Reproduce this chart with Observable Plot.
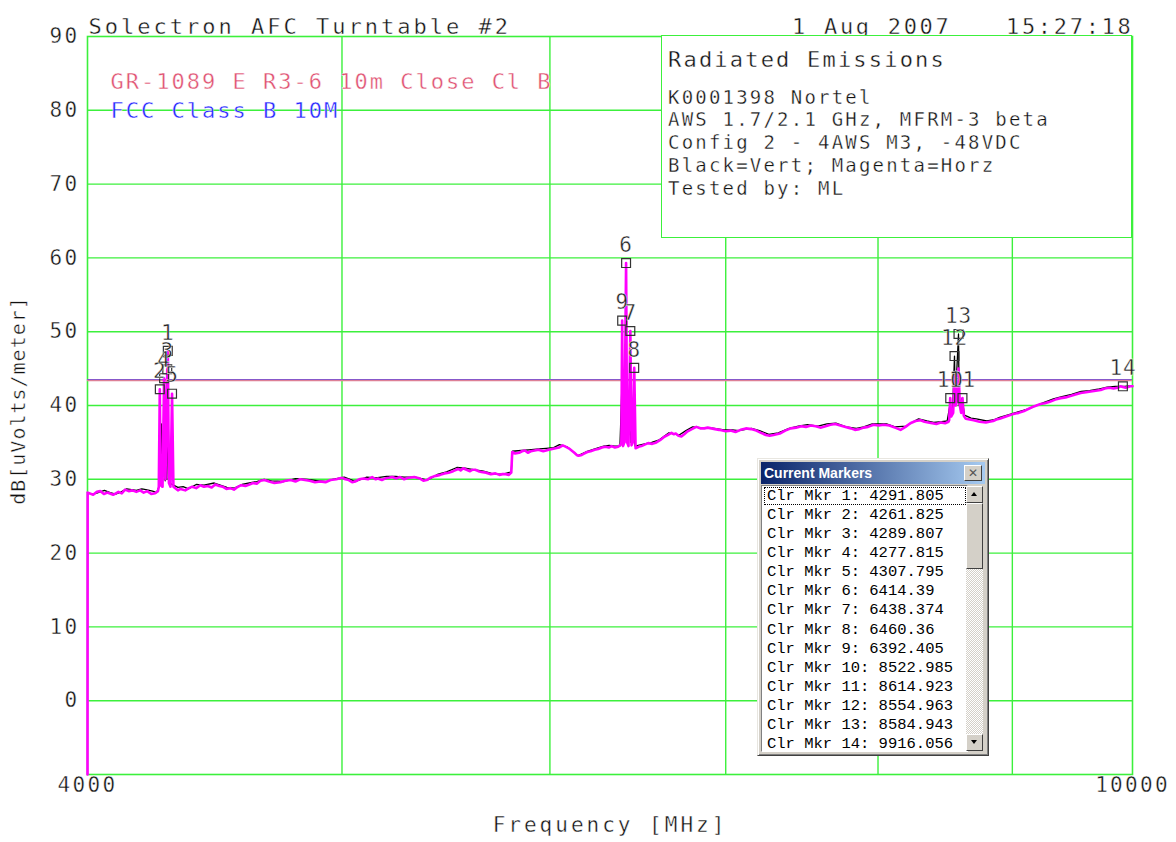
<!DOCTYPE html>
<html>
<head>
<meta charset="utf-8">
<script src="https://cdn.jsdelivr.net/npm/d3@7"></script>
<script src="https://cdn.jsdelivr.net/npm/@observablehq/plot@0.6"></script>
<style>
  html, body { margin: 0; padding: 0; background: #fff; }
  #wrap { position: relative; width: 1176px; height: 842px; overflow: hidden; background: #fff; }
  #wrap > svg { position: absolute; left: 0; top: 0; }
  #wrap > svg text { stroke: #fff; stroke-width: 0.4px; paint-order: normal; }
  .info { position: absolute; left: 661px; top: 35px; width: 471px; height: 203px; box-sizing: border-box;
          border: 1.5px solid #3cf03c; background: #fff; font-family: "DejaVu Sans Mono", monospace; color: #111;
          -webkit-text-stroke: 0.35px #fff; }
  .info div { position: absolute; left: 6px; white-space: pre; line-height: 1; }
  .mw { position: absolute; left: 757px; top: 458px; width: 232px; height: 298px; box-sizing: border-box;
        background: #d4d0c8; border: 1px solid; border-color: #e8e6e0 #404040 #404040 #e8e6e0;
        box-shadow: inset 1px 1px #fff, inset -1px -1px #808080; }
  .tb { position: absolute; left: 3px; top: 3px; right: 3px; height: 22px;
        background: linear-gradient(to right, #0a246a, #a6caf0); color: #fff;
        font: bold 14px "Liberation Sans", "DejaVu Sans", sans-serif; line-height: 22px; padding-left: 3px; box-sizing: border-box; }
  .xb { position: absolute; right: 3px; top: 3px; width: 18px; height: 16px; background: #d4d0c8; box-sizing: border-box;
        border: 1px solid; border-color: #fff #404040 #404040 #fff; color: #555; font: bold 12px "DejaVu Sans", sans-serif;
        line-height: 14px; text-align: center; }
  .list { position: absolute; left: 3px; top: 26px; width: 207px; bottom: 3px; background: #fff; box-sizing: border-box;
          border: 1px solid; border-color: #808080 #fff #fff #808080; overflow: hidden; }
  .row { position: absolute; left: 2px; right: 1px; height: 18px; font: 15.5px "Liberation Mono", "DejaVu Sans Mono", monospace;
         line-height: 18px; color: #000; padding-left: 3px; white-space: pre; }
  .row.sel { outline: 1px dotted #000; outline-offset: -1px; }
  .sb { position: absolute; left: 208px; top: 27px; width: 17px; bottom: 4px;
        background-color: #fff;
        background-image: conic-gradient(#d4d0c8 25%, #fff 0 50%, #d4d0c8 0 75%, #fff 0); background-size: 2px 2px; }
  .btn { position: absolute; left: 0; width: 17px; height: 17px; background: #d4d0c8; box-sizing: border-box;
         border: 1px solid; border-color: #fff #404040 #404040 #fff; }
  .up { top: 0; } .dn { bottom: 0; } .thumb { top: 17px; height: 66px; }
  .tri { position: absolute; left: 4px; width: 0; height: 0; border-left: 3.5px solid transparent; border-right: 3.5px solid transparent; }
  .up .tri { top: 5px; border-bottom: 4px solid #000; }
  .dn .tri { top: 5px; border-top: 4px solid #000; }
</style>
</head>
<body>
<div id="wrap"></div>
<script>
// ---------- data ----------
const titleText = "Solectron AFC Turntable #2";
const dateText = "1 Aug 2007";
const timeText = "15:27:18";
const limitName = "GR-1089 E R3-6 10m Close Cl B";
const fccName = "FCC Class B 10M";
const xLabel = "Frequency [MHz]";
const yLabel = "dB[uVolts/meter]";
const infoTitle = "Radiated Emissions";
const infoLines = ["K0001398 Nortel", "AWS 1.7/2.1 GHz, MFRM-3 beta", "Config 2 - 4AWS M3, -48VDC", "Black=Vert; Magenta=Horz", "Tested by: ML"];

const yTickLabels = [0, 10, 20, 30, 40, 50, 60, 70, 80, 90];
const yGrid = [0, 10, 20, 30, 40, 50, 60, 70, 80];
const xGrid = [5000, 6000, 7000, 8000, 9000];
const xTickLabels = [4000, 10000];
const limitLevel = 43.4;
const fccLevel = 43.5;

const markerIds = [1, 2, 3, 4, 5, 6, 7, 8, 9, 10, 11, 12, 13, 14];
const markerFreqs = [4291.805, 4261.825, 4289.807, 4277.815, 4307.795, 6414.39, 6438.374, 6460.36, 6392.405, 8522.985, 8614.923, 8554.963, 8584.943, 9916.056];
const markerLevels = [47.4, 42.2, 44.9, 43.7, 41.6, 59.3, 50.1, 45.1, 51.5, 41.0, 41.0, 46.7, 49.7, 42.6];

// Magenta = horizontal polarisation [MHz, dB]
const horzTrace = [
  [4000, -10], [4000.5, 28.2], [4020, 27.9], [4033, 28.3], [4045, 28.4], [4058, 28.0], [4070, 28.2], [4091, 27.9],
  [4110, 28.3], [4122, 28.1], [4134, 28.6], [4147, 28.4], [4160, 28.5], [4175, 28.3], [4189, 28.5], [4202, 28.2],
  [4215, 28.4], [4230, 28.0], [4244, 28.1], [4255, 28.4],
  [4258, 29.0], [4261.8, 42.2], [4265, 29.2], [4272, 29.0], [4277.8, 43.7], [4283, 30.0], [4289.8, 44.9], [4290.8, 36.0],
  [4291.8, 47.4], [4296, 29.5], [4302, 29.0], [4307.8, 41.6], [4313, 29.0],
  [4320, 28.8], [4330, 28.5], [4340, 28.7], [4358, 28.5], [4372, 28.8], [4385, 29.0], [4400, 28.8], [4416, 29.2],
  [4430, 29.0], [4445, 29.1], [4460, 28.9], [4474, 29.3], [4490, 29.1], [4503, 29.0], [4518, 28.7], [4533, 28.8],
  [4548, 28.6], [4560, 28.9], [4577, 29.2], [4594, 29.1], [4610, 29.3], [4625, 29.5], [4640, 29.4], [4655, 29.8],
  [4672, 29.9], [4690, 29.7], [4712, 29.5], [4737, 29.6], [4758, 29.8], [4780, 29.9], [4800, 29.7], [4820, 30.0],
  [4840, 29.9], [4860, 29.8], [4883, 29.6], [4906, 29.7], [4928, 29.6], [4950, 29.9], [4975, 30.0], [5000, 30.2],
  [5015, 30.0], [5030, 29.9], [5045, 29.6], [5058, 29.7], [5076, 30.0], [5095, 30.1], [5115, 30.0], [5134, 30.3],
  [5150, 30.0], [5160, 30.1], [5178, 29.9], [5192, 30.1], [5210, 30.2], [5225, 30.3], [5243, 30.1], [5261, 30.3],
  [5280, 30.0], [5300, 30.2], [5327, 30.3], [5354, 30.1], [5370, 29.8], [5385, 29.9], [5402, 30.2], [5420, 30.4],
  [5435, 30.5], [5449, 30.6], [5470, 30.8], [5490, 30.9], [5512, 31.1], [5536, 31.4], [5548, 31.2], [5560, 31.5],
  [5577, 31.3], [5594, 31.1], [5607, 31.3], [5620, 31.3], [5635, 31.1], [5650, 31.0], [5673, 30.9], [5697, 30.7],
  [5720, 30.8], [5740, 30.6], [5756, 30.7], [5772, 30.7], [5788, 30.6], [5800, 30.9], [5805, 33.7], [5820, 33.5],
  [5840, 33.6], [5855, 33.8], [5870, 33.9], [5885, 33.6], [5900, 33.8], [5920, 33.9], [5940, 34.0], [5965, 33.8],
  [5994, 34.0], [6012, 34.1], [6030, 34.2], [6048, 34.3], [6068, 34.6], [6085, 34.4], [6100, 34.2], [6115, 33.9],
  [6130, 33.6], [6142, 33.3], [6153, 33.2], [6170, 33.3], [6185, 33.5], [6200, 33.7], [6218, 33.8], [6240, 34.0],
  [6260, 34.1], [6280, 34.3], [6300, 34.4], [6318, 34.3], [6333, 34.5], [6352, 34.3], [6370, 34.4], [6385, 34.7],
  [6388, 35.0], [6392.4, 51.5], [6397, 34.5], [6405, 35.0], [6414.4, 59.3], [6420, 35.0], [6428, 34.5], [6438.4, 50.1],
  [6445, 34.6], [6452, 35.0], [6460.4, 45.1], [6468, 34.2],
  [6485, 34.4], [6501, 34.5], [6520, 34.7], [6540, 34.9], [6563, 34.8], [6587, 35.0], [6608, 35.3], [6630, 35.7],
  [6652, 36.0], [6675, 36.3], [6688, 36.1], [6700, 36.2], [6716, 35.9], [6733, 35.8], [6750, 36.1], [6770, 36.5],
  [6795, 36.8], [6822, 37.1], [6845, 36.9], [6870, 36.9], [6890, 37.0], [6912, 36.9], [6935, 36.8], [6960, 36.7],
  [6980, 36.6], [7000, 36.5], [7030, 36.6], [7060, 36.4], [7092, 36.7], [7125, 36.9], [7158, 36.8], [7190, 36.6],
  [7220, 36.3], [7251, 36.0], [7275, 35.9], [7300, 36.0], [7320, 36.1], [7340, 36.2], [7375, 36.6], [7411, 36.9],
  [7445, 37.0], [7480, 37.2], [7510, 37.1], [7542, 37.3], [7575, 37.2], [7610, 37.0], [7640, 37.2], [7673, 37.4],
  [7705, 37.5], [7740, 37.3], [7775, 37.1], [7812, 36.9], [7840, 36.7], [7870, 36.8], [7900, 37.0], [7930, 37.1],
  [7968, 37.4], [8005, 37.3], [8040, 37.4], [8080, 37.3], [8120, 37.0], [8160, 36.7], [8195, 37.1], [8230, 37.6],
  [8268, 37.9], [8305, 38.0], [8332, 37.8], [8360, 37.7], [8390, 37.6], [8420, 37.5], [8452, 37.7], [8485, 37.6],
  [8510, 37.8],
  [8515, 38.0], [8523, 41.0], [8530, 38.5], [8545, 39.0], [8555, 44.0], [8565, 40.0], [8577, 41.0], [8585, 45.0],
  [8595, 40.0], [8605, 39.0], [8615, 41.0], [8625, 38.6],
  [8640, 38.2], [8670, 38.1], [8700, 38.0], [8745, 37.8], [8793, 37.7], [8820, 37.8], [8850, 37.9], [8875, 38.1],
  [8900, 38.2], [8950, 38.5], [9000, 38.8], [9050, 39.0], [9100, 39.3], [9160, 39.8], [9226, 40.2], [9260, 40.3],
  [9300, 40.5], [9345, 40.8], [9390, 41.0], [9430, 41.1], [9470, 41.3], [9512, 41.5], [9556, 41.7], [9600, 41.8],
  [9640, 41.9], [9683, 42.0], [9725, 42.1], [9760, 42.3], [9800, 42.4], [9835, 42.3], [9870, 42.4], [9895, 42.6],
  [9916, 42.5], [9940, 42.4], [9960, 42.5], [9980, 42.6], [10000, 42.6]
];

// Black = vertical polarisation [MHz, dB]
const vertTrace = [
  [4000, 28.2], [4015, 28.0], [4030, 28.1], [4060, 28.5], [4080, 28.2], [4100, 28.0], [4120, 28.3], [4140, 28.7],
  [4175, 28.5], [4195, 28.7], [4210, 28.6], [4235, 28.4], [4250, 28.2], [4259, 29.0], [4262, 30.5], [4266, 29.5],
  [4268, 37.5], [4270, 29.0], [4280, 37.0], [4282, 29.8], [4285, 36.0], [4288, 30.0], [4293, 38.5], [4298, 29.5],
  [4330, 28.9], [4350, 29.0], [4370, 28.7], [4400, 29.3], [4430, 29.2], [4470, 29.5], [4520, 28.9], [4550, 28.8],
  [4580, 29.3], [4610, 29.5], [4640, 29.7], [4670, 30.0], [4700, 29.8], [4750, 29.7], [4800, 30.1], [4850, 30.0],
  [4900, 29.8], [4930, 29.7], [4960, 30.0], [5010, 30.3], [5060, 29.7], [5110, 30.3], [5150, 30.2], [5200, 30.4],
  [5240, 30.4], [5280, 30.3], [5330, 30.3], [5390, 29.9], [5440, 30.7], [5480, 31.0], [5530, 31.6], [5570, 31.5],
  [5610, 31.3], [5660, 31.1], [5700, 30.8], [5730, 30.7], [5760, 30.7], [5800, 31.0], [5806, 33.8], [5850, 33.9],
  [5890, 34.0], [5930, 34.1], [5980, 34.2], [6020, 34.3], [6050, 34.7], [6090, 34.4], [6120, 33.8], [6150, 33.2],
  [6200, 33.8], [6250, 34.2], [6290, 34.5], [6320, 34.6], [6350, 34.5], [6380, 34.5], [6390, 42.0], [6395, 35.0],
  [6410, 44.0], [6418, 36.0], [6435, 41.0], [6442, 35.0], [6458, 38.0], [6465, 34.5], [6520, 34.8], [6560, 35.0],
  [6600, 35.3], [6660, 36.3], [6720, 36.0], [6760, 36.6], [6800, 37.1], [6850, 37.0], [6900, 37.0], [6990, 36.7],
  [7040, 36.7], [7080, 36.6], [7160, 36.9], [7210, 36.6], [7270, 36.1], [7330, 36.3], [7400, 36.9], [7460, 37.2],
  [7520, 37.4], [7590, 37.2], [7650, 37.5], [7710, 37.6], [7780, 37.1], [7850, 36.9], [7900, 37.1], [7960, 37.5],
  [8000, 37.5], [8060, 37.5], [8120, 37.1], [8200, 37.2], [8250, 37.8], [8290, 38.2], [8350, 37.9], [8400, 37.7],
  [8460, 37.8], [8500, 37.9], [8520, 40.0], [8540, 39.0], [8555, 46.7], [8560, 40.0], [8585, 49.7], [8590, 40.0],
  [8612, 41.0], [8630, 38.7], [8680, 38.3], [8720, 38.2], [8800, 37.9], [8860, 38.1], [8900, 38.4], [9000, 38.9],
  [9060, 39.2], [9120, 39.5], [9190, 40.0], [9250, 40.4], [9330, 40.9], [9400, 41.2], [9480, 41.5], [9560, 41.9],
  [9630, 42.0], [9700, 42.2], [9780, 42.5], [9850, 42.6], [9930, 42.6], [10000, 42.7]
];

// ---------- build ----------
const GREEN = "#3cf03c";
const FONT = "DejaVu Sans Mono";
const horz = horzTrace.map(([f, v]) => ({f, v}));
const vert = vertTrace.map(([f, v]) => ({f, v}));
const markers = markerIds.map((id, i) => ({id, f: markerFreqs[i], v: markerLevels[i]}));

const chart = Plot.plot({
  width: 1176,
  height: 842,
  marginLeft: 87,
  marginRight: 44,
  marginTop: 36,
  marginBottom: 68,
  style: {fontFamily: FONT, background: "#fff", color: "#111", overflow: "visible"},
  x: {type: "log", domain: [4000, 10000], axis: null, label: null},
  y: {domain: [-10, 90], axis: null, label: null},
  marks: [
    Plot.ruleY(yGrid, {stroke: GREEN, strokeWidth: 1.4}),
    Plot.ruleX(xGrid, {stroke: GREEN, strokeWidth: 1.4}),
    Plot.frame({stroke: GREEN, strokeWidth: 1.6}),
    Plot.ruleY([fccLevel], {stroke: "#3030ff", strokeWidth: 1.2}),
    Plot.ruleY([limitLevel], {stroke: "#dd8096", strokeWidth: 1.6}),
    Plot.line(vert, {x: "f", y: "v", stroke: "#000", strokeWidth: 1.3}),
    Plot.line(horz, {x: "f", y: "v", stroke: "#ff00ff", strokeWidth: 2.6}),
    Plot.dot(markers, {x: "f", y: "v", symbol: "square", r: 5, stroke: "#333", strokeWidth: 1.2, fill: "none"}),
    Plot.text(markers, {x: "f", y: "v", text: d => String(d.id), dy: -18, fontSize: 21, fill: "#222"}),
    Plot.axisY(yTickLabels, {tickSize: 0, tickPadding: 8, fontSize: 21, tickFormat: d => String(d), fill: "#111", label: null}),
    Plot.axisX(xTickLabels, {tickSize: 0, tickPadding: 3, fontSize: 21, tickFormat: d => String(d), fill: "#111", label: null}),
    Plot.text([yLabel], {frameAnchor: "left", textAnchor: "middle", rotate: -90, dx: -69, dy: -5, fontSize: 20, fill: "#111"}),
    Plot.text([xLabel], {frameAnchor: "bottom", dy: 57, fontSize: 21, fill: "#111"}),
    Plot.text([titleText], {frameAnchor: "top-left", textAnchor: "start", dx: 1, dy: -18, fontSize: 22, fill: "#111"}),
    Plot.text([timeText], {frameAnchor: "top-right", textAnchor: "end", dx: 1, dy: -18, fontSize: 22, fill: "#111"}),
    Plot.text([dateText], {frameAnchor: "top-right", textAnchor: "end", dx: -181, dy: -18, fontSize: 22, fill: "#111"}),
    Plot.text([limitName], {frameAnchor: "top-left", textAnchor: "start", dx: 23, dy: 37, fontSize: 22, fill: "#e05070"}),
    Plot.text([fccName], {frameAnchor: "top-left", textAnchor: "start", dx: 23, dy: 66, fontSize: 22, fill: "#2424ff"})
  ]
});

// letter spacing to mimic the wide plotter font
const spacing = new Map([[titleText, 3], [dateText, 2.7], [timeText, 2.7], [limitName, 2], [fccName, 2], [xLabel, 3], [yLabel, 1]]);
chart.querySelectorAll("text").forEach(t => {
  const s = t.textContent;
  if (spacing.has(s)) t.style.letterSpacing = spacing.get(s) + "px";
  else if (/^\d+$/.test(s)) {
    const g = t.closest("g[aria-label]");
    const isTick = g && /tick/.test(g.getAttribute("aria-label"));
    t.style.letterSpacing = (isTick ? 2.3 : 0.8) + "px";
  }
});

const wrap = document.getElementById("wrap");
wrap.appendChild(chart);

// info box
const info = document.createElement("div");
info.className = "info";
const baselines = [103, 125, 148, 171, 194];
function addLine(text, size, baseline, ls) {
  const d = document.createElement("div");
  d.textContent = text;
  d.style.fontSize = size + "px";
  d.style.letterSpacing = ls + "px";
  d.style.top = (baseline - 35 - 0.846 * size) + "px";
  info.appendChild(d);
}
addLine(infoTitle, 22, 67, 2.2);
infoLines.forEach((t, i) => addLine(t, 19, baselines[i], 2.2));
wrap.appendChild(info);

// marker window
const mw = document.createElement("div");
mw.className = "mw";
const tb = document.createElement("div");
tb.className = "tb";
tb.textContent = "Current Markers";
const xb = document.createElement("div");
xb.className = "xb";
xb.textContent = "✕";
tb.appendChild(xb);
mw.appendChild(tb);
const list = document.createElement("div");
list.className = "list";
markerIds.forEach((id, i) => {
  const r = document.createElement("div");
  r.className = "row" + (i === 0 ? " sel" : "");
  r.style.top = (0.5 + i * 19.15) + "px";
  r.textContent = `Clr Mkr ${id}: ${markerFreqs[i]}`;
  list.appendChild(r);
});
mw.appendChild(list);
const sb = document.createElement("div");
sb.className = "sb";
sb.innerHTML = '<div class="btn up"><div class="tri"></div></div><div class="btn thumb"></div><div class="btn dn"><div class="tri"></div></div>';
mw.appendChild(sb);
wrap.appendChild(mw);
</script>
</body>
</html>
